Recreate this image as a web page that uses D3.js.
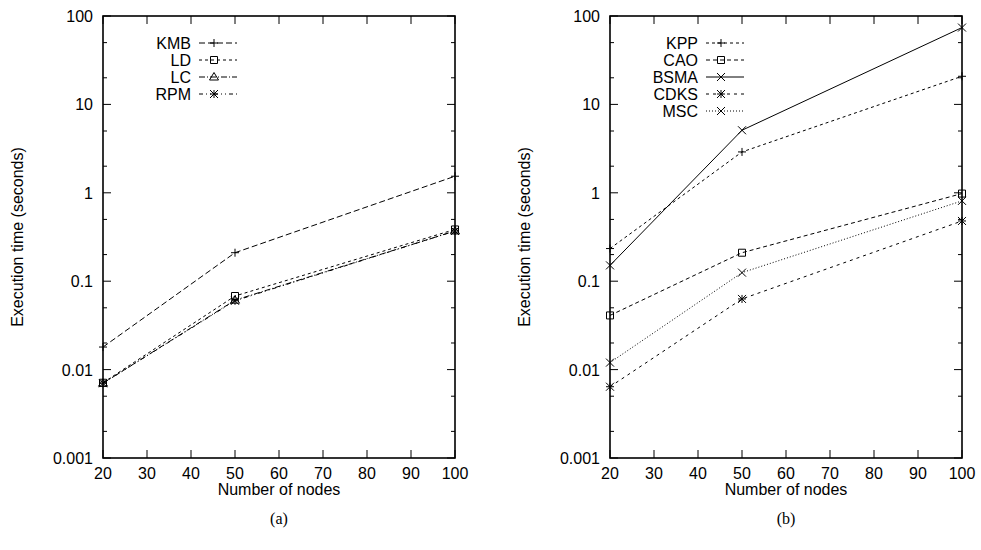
<!DOCTYPE html>
<html>
<head>
<meta charset="utf-8">
<script src="https://cdn.jsdelivr.net/npm/d3@7"></script>
<style>
  body { margin: 0; background: #fff; }
  text { font-family: "Liberation Sans", Arial, sans-serif; font-size: 16px; fill: #000; }
  .caption { font-family: "Liberation Serif", "Times New Roman", serif; }
</style>
</head>
<body>
<svg id="chart" width="981" height="550"></svg>
<script>
// ── Data ──────────────────────────────────────────────────────────────────────
const nodeCounts = [20, 50, 100];
const xTicks     = [20, 30, 40, 50, 60, 70, 80, 90, 100];
const yTicks     = [0.001, 0.01, 0.1, 1, 10, 100];
const yMinor     = [0.002, 0.005, 0.02, 0.05, 0.2, 0.5, 2, 5, 20, 50];

// panel (a)
const kmb = [0.018, 0.21, 1.54];
const ld  = [0.0071, 0.068, 0.385];
const lc  = [0.0070, 0.061, 0.37];
const rpm = [0.0070, 0.060, 0.37];

// panel (b)
const kpp  = [0.234, 2.9, 20.8];
const cao  = [0.041, 0.21, 0.98];
const bsma = [0.151, 5.1, 74];
const cdks = [0.0064, 0.063, 0.48];
const msc  = [0.012, 0.125, 0.81];

// ── Layout ────────────────────────────────────────────────────────────────────
const PLOT_W = 352, PLOT_H = 442, PLOT_TOP = 16;
const TICK_MAJOR = 8, TICK_MINOR = 4;

const panels = [
  { left: 103, caption: '(a)', series: [
    { name: 'KMB', values: kmb, dash: '6,3',          marker: 'plus' },
    { name: 'LD',  values: ld,  dash: '3,3',          marker: 'square' },
    { name: 'LC',  values: lc,  dash: '6,2,1,2',      marker: 'triangle' },
    { name: 'RPM', values: rpm, dash: '4,3,1,3,1,3',  marker: 'star' },
  ]},
  { left: 610, caption: '(b)', series: [
    { name: 'KPP',  values: kpp,  dash: '3,3', marker: 'plus' },
    { name: 'CAO',  values: cao,  dash: '4,3', marker: 'square' },
    { name: 'BSMA', values: bsma, dash: null,  marker: 'cross' },
    { name: 'CDKS', values: cdks, dash: '3,4', marker: 'star' },
    { name: 'MSC',  values: msc,  dash: '1,2', marker: 'cross' },
  ]},
];

// ── Markers ───────────────────────────────────────────────────────────────────
function markerPath(type, x, y) {
  const s = 4;
  switch (type) {
    case 'plus':     return `M${x - s},${y}H${x + s}M${x},${y - s}V${y + s}`;
    case 'cross':    return `M${x - s},${y - s}L${x + s},${y + s}M${x - s},${y + s}L${x + s},${y - s}`;
    case 'star':     return `M${x - s},${y}H${x + s}M${x},${y - s}V${y + s}` +
                            `M${x - s},${y - s}L${x + s},${y + s}M${x - s},${y + s}L${x + s},${y - s}`;
    case 'square':   return `M${x - 3.5},${y - 3.5}h7v7h-7Z`;
    case 'triangle': return `M${x},${y - 4.5}L${x + 4.5},${y + 3}H${x - 4.5}Z`;
  }
  return '';
}

const svg = d3.select('#chart');

// ── Panel drawing ─────────────────────────────────────────────────────────────
function drawPanel(p) {
  const x = d3.scaleLinear().domain([20, 100]).range([p.left, p.left + PLOT_W]);
  const y = d3.scaleLog().domain([0.001, 100]).range([PLOT_TOP + PLOT_H, PLOT_TOP]);
  const g = svg.append('g');
  const x0 = p.left, x1 = p.left + PLOT_W, y0 = PLOT_TOP + PLOT_H, y1 = PLOT_TOP;

  // ticks (inward, mirrored)
  const ticks = g.append('g').attr('stroke', '#000').attr('stroke-width', 1);
  xTicks.forEach(t => {
    ticks.append('line').attr('x1', x(t)).attr('x2', x(t)).attr('y1', y0).attr('y2', y0 - TICK_MAJOR);
    ticks.append('line').attr('x1', x(t)).attr('x2', x(t)).attr('y1', y1).attr('y2', y1 + TICK_MAJOR);
  });
  yTicks.forEach(t => {
    ticks.append('line').attr('x1', x0).attr('x2', x0 + TICK_MAJOR).attr('y1', y(t)).attr('y2', y(t));
    ticks.append('line').attr('x1', x1).attr('x2', x1 - TICK_MAJOR).attr('y1', y(t)).attr('y2', y(t));
  });
  yMinor.forEach(t => {
    ticks.append('line').attr('x1', x0).attr('x2', x0 + TICK_MINOR).attr('y1', y(t)).attr('y2', y(t));
    ticks.append('line').attr('x1', x1).attr('x2', x1 - TICK_MINOR).attr('y1', y(t)).attr('y2', y(t));
  });

  // border
  g.append('rect')
    .attr('x', x0).attr('y', y1).attr('width', PLOT_W).attr('height', PLOT_H)
    .attr('fill', 'none').attr('stroke', '#000').attr('stroke-width', 1.6);

  // tick labels
  g.selectAll('text.xl').data(xTicks).join('text')
    .attr('class', 'xl').attr('x', d => x(d)).attr('y', y0 + 21)
    .attr('text-anchor', 'middle').text(d => d);
  g.selectAll('text.yl').data(yTicks).join('text')
    .attr('class', 'yl').attr('x', x0 - 10).attr('y', d => y(d) + 6)
    .attr('text-anchor', 'end').text(d => d3.format('~g')(d));

  // axis titles
  g.append('text').attr('x', (x0 + x1) / 2).attr('y', y0 + 37)
    .attr('text-anchor', 'middle').text('Number of nodes');
  g.append('text')
    .attr('transform', `translate(${x0 - 80},${(y0 + y1) / 2}) rotate(-90)`)
    .attr('text-anchor', 'middle').text('Execution time (seconds)');
  g.append('text').attr('class', 'caption').attr('x', (x0 + x1) / 2).attr('y', 524)
    .attr('text-anchor', 'middle').text(p.caption);

  // series
  const line = d3.line().x((d, i) => x(nodeCounts[i])).y(d => y(d));
  p.series.forEach((s, k) => {
    g.append('path').attr('d', line(s.values))
      .attr('fill', 'none').attr('stroke', '#000').attr('stroke-width', 1)
      .attr('stroke-dasharray', s.dash);
    s.values.forEach((v, i) => {
      g.append('path').attr('d', markerPath(s.marker, x(nodeCounts[i]), y(v)))
        .attr('fill', 'none').attr('stroke', '#000').attr('stroke-width', 1);
    });

    // legend entry
    const ly = 43 + k * 17;
    g.append('text').attr('x', x0 + 88).attr('y', ly + 6)
      .attr('text-anchor', 'end').text(s.name);
    g.append('line').attr('x1', x0 + 96).attr('x2', x0 + 134).attr('y1', ly).attr('y2', ly)
      .attr('stroke', '#000').attr('stroke-width', 1).attr('stroke-dasharray', s.dash);
    g.append('path').attr('d', markerPath(s.marker, x0 + 111, ly))
      .attr('fill', 'none').attr('stroke', '#000').attr('stroke-width', 1);
  });
}

panels.forEach(drawPanel);
</script>
</body>
</html>
